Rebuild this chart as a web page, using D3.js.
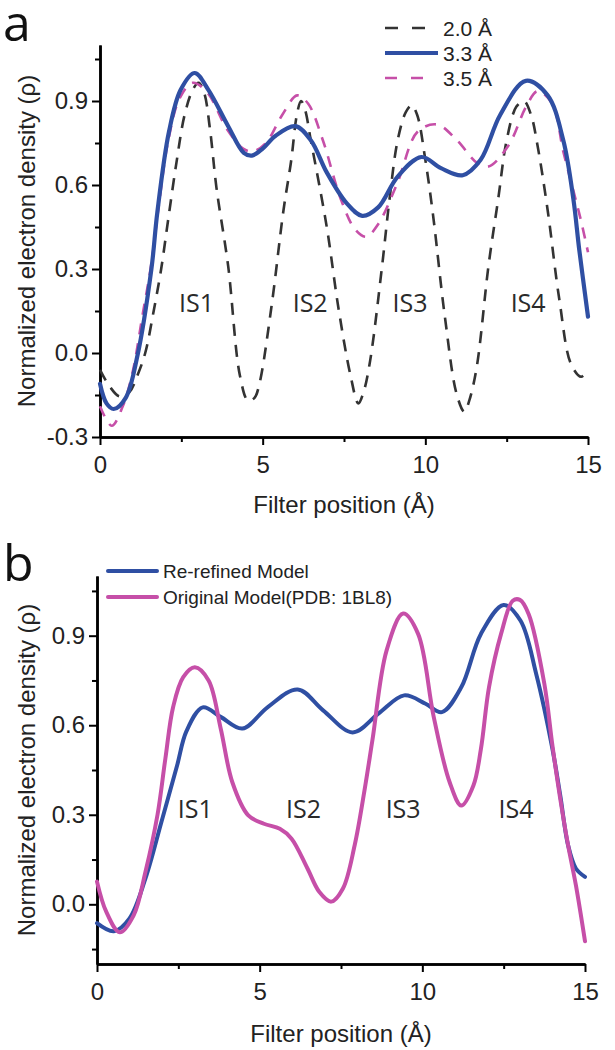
<!DOCTYPE html>
<html><head><meta charset="utf-8">
<script src="https://cdn.jsdelivr.net/npm/d3@7"></script>
<style>body{margin:0;background:#fff}svg{display:block}</style>
</head><body>
<svg id="c" width="615" height="1050"></svg>
<script>
// ---------- DATA ----------
const xTicks = [0, 5, 10, 15];
const xMinorTicks = [2.5, 7.5, 12.5];
const yTicksA = [-0.3, 0, 0.3, 0.6, 0.9];
const yTicksB = [0, 0.3, 0.6, 0.9];
const yMinorTicks = [-0.15, 0.15, 0.45, 0.75, 1.05];
const siteLabels = ["IS1", "IS2", "IS3", "IS4"];
const siteXA = [2.97, 6.46, 9.53, 13.16];
const siteXB = [3.02, 6.35, 9.41, 12.88];
const legendA = ["2.0 Å", "3.3 Å", "3.5 Å"];
const legendB = ["Re-refined Model", "Original Model(PDB: 1BL8)"];

// panel a: 2.0 Å (black dashed)
const a20 = [[0,-0.06],[0.3,-0.12],[0.6,-0.155],[0.9,-0.14],[1.15,-0.08],[1.39,0.0],[1.65,0.15],[1.88,0.30],[2.1,0.48],[2.35,0.68],[2.6,0.85],[2.85,0.94],[3.03,0.965],[3.2,0.93],[3.38,0.80],[3.58,0.59],[3.94,0.31],[4.3,-0.08],[4.55,-0.17],[4.75,-0.16],[4.9,-0.11],[5.27,0.165],[5.64,0.51],[5.88,0.69],[6.05,0.85],[6.18,0.9],[6.3,0.87],[6.48,0.76],[6.97,0.45],[7.33,0.16],[7.7,-0.08],[7.94,-0.18],[8.1,-0.14],[8.3,-0.03],[8.67,0.31],[8.9,0.55],[9.15,0.76],[9.4,0.86],[9.58,0.885],[9.75,0.85],[10.0,0.69],[10.24,0.49],[10.6,0.13],[10.97,-0.15],[11.2,-0.21],[11.35,-0.17],[11.58,-0.05],[11.94,0.31],[12.24,0.55],[12.5,0.76],[12.8,0.88],[13.03,0.9],[13.25,0.85],[13.45,0.74],[13.76,0.51],[14.12,0.19],[14.48,-0.04],[14.79,-0.085],[15,-0.06]];
// panel a: 3.3 Å (blue solid)
const a33 = [[0,-0.11],[0.2,-0.18],[0.42,-0.2],[0.79,-0.16],[1.15,-0.01],[1.58,0.30],[1.76,0.50],[2.12,0.79],[2.48,0.94],[2.91,1.0],[3.33,0.94],[3.94,0.81],[4.42,0.715],[4.67,0.705],[5.0,0.73],[5.39,0.775],[6.0,0.81],[6.48,0.76],[6.97,0.645],[7.58,0.535],[8.06,0.49],[8.55,0.52],[9.15,0.63],[9.88,0.70],[10.48,0.66],[11.15,0.635],[11.7,0.69],[12.3,0.85],[13.09,0.972],[13.76,0.92],[14.24,0.76],[14.55,0.55],[14.73,0.37],[15,0.13]];
// panel a: 3.5 Å (pink dashed)
const a35 = [[0,-0.19],[0.36,-0.26],[0.7,-0.19],[1.0,-0.07],[1.3,0.13],[1.58,0.32],[1.8,0.52],[2.1,0.76],[2.45,0.91],[2.85,0.965],[3.3,0.93],[3.9,0.80],[4.4,0.73],[4.7,0.72],[5.1,0.75],[5.6,0.85],[6.06,0.92],[6.4,0.89],[6.85,0.76],[7.4,0.55],[7.85,0.44],[8.18,0.415],[8.55,0.46],[9.15,0.61],[9.76,0.79],[10.36,0.816],[10.97,0.76],[11.58,0.68],[11.94,0.666],[12.55,0.74],[13.1,0.88],[13.45,0.935],[13.9,0.89],[14.24,0.72],[14.55,0.58],[14.79,0.47],[15,0.36]];
// panel b: re-refined model (blue)
const bRe = [[0,-0.063],[0.52,-0.09],[1.0,-0.047],[1.49,0.087],[1.98,0.276],[2.46,0.464],[2.75,0.58],[3.25,0.66],[3.8,0.628],[4.47,0.589],[5.25,0.661],[6.17,0.72],[6.95,0.65],[7.86,0.576],[8.65,0.639],[9.44,0.70],[10.1,0.672],[10.6,0.644],[11.2,0.728],[11.8,0.906],[12.5,1.003],[13.02,0.95],[13.5,0.772],[14.0,0.52],[14.24,0.364],[14.48,0.198],[14.72,0.12],[15,0.092]];
// panel b: original model 1BL8 (magenta)
const bOrig = [[0,0.076],[0.28,-0.024],[0.7,-0.094],[1.13,-0.036],[1.49,0.109],[1.86,0.30],[2.1,0.487],[2.34,0.661],[2.65,0.761],[3.01,0.794],[3.43,0.75],[3.8,0.59],[4.16,0.409],[4.65,0.298],[5.13,0.27],[5.62,0.253],[5.98,0.22],[6.47,0.12],[6.83,0.042],[7.2,0.009],[7.56,0.053],[7.92,0.198],[8.23,0.387],[8.47,0.553],[8.9,0.85],[9.41,0.974],[9.87,0.906],[10.35,0.628],[10.84,0.409],[11.2,0.331],[11.57,0.398],[11.8,0.52],[12.05,0.728],[12.42,0.906],[12.78,1.017],[13.0,1.02],[13.27,0.972],[13.75,0.739],[14.0,0.531],[14.24,0.353],[14.48,0.198],[14.72,0.064],[15,-0.124]];

// ---------- DRAW ----------
const svg = d3.select("#c");
const AX = "'Liberation Sans', Arial, sans-serif";
const MY = "'Open Sans', 'Noto Sans', sans-serif";
const BLUE = "#2f4fa3", PINK = "#c64fa8", BLACK = "#333";
const fmt1 = d => d.toFixed(1);

function panel(o) {
  const g = svg.append("g");
  const x = d3.scaleLinear().domain([0, 15]).range(o.xr);
  const y = d3.scaleLinear().domain(o.yd).range(o.yr);
  const x0 = o.xr[0], yb = o.yr[0];

  const styleAxis = sel => {
    sel.select(".domain").attr("stroke", "#000").attr("stroke-width", 2.5);
    sel.selectAll(".tick line").attr("stroke", "#000").attr("stroke-width", 2);
    sel.selectAll("text").attr("font-family", AX).attr("font-size", 24).attr("fill", "#222");
  };
  g.append("g").attr("transform", `translate(0,${yb})`)
    .call(d3.axisBottom(x).tickValues(xTicks).tickSize(8).tickSizeOuter(0).tickPadding(11).tickFormat(d3.format("d")))
    .call(styleAxis);
  g.append("g").attr("transform", `translate(0,${yb})`)
    .call(d3.axisBottom(x).tickValues(xMinorTicks).tickSize(5).tickSizeOuter(0).tickFormat(""))
    .call(styleAxis);
  g.append("g").attr("transform", `translate(${x0},0)`)
    .call(d3.axisLeft(y).tickValues(o.yt).tickSize(8).tickSizeOuter(0).tickPadding(4).tickFormat(fmt1))
    .call(styleAxis);
  g.append("g").attr("transform", `translate(${x0},0)`)
    .call(d3.axisLeft(y).tickValues(yMinorTicks.filter(v => v > o.yd[0] && v < o.yd[1])).tickSize(5).tickSizeOuter(0).tickFormat(""))
    .call(styleAxis);

  g.append("text").attr("x", (o.xr[0] + o.xr[1]) / 2).attr("y", o.xTitleY)
    .attr("text-anchor", "middle").attr("font-family", AX).attr("font-size", 24).attr("fill", "#222")
    .text("Filter position (Å)");
  g.append("text").attr("transform", `translate(${o.yTitleX},${(o.yr[0] + o.yr[1]) / 2}) rotate(-90)`)
    .attr("text-anchor", "middle").attr("font-family", AX).attr("font-size", 24).attr("fill", "#222")
    .text("Normalized electron density (ρ)");

  g.selectAll(".site").data(siteLabels).enter().append("text")
    .attr("x", (d, i) => x(o.siteX[i])).attr("y", y(o.siteY))
    .attr("dy", "0.36em").attr("text-anchor", "middle")
    .attr("font-family", MY).attr("font-size", 25).attr("fill", "#2a2a2a").text(d => d);

  const line = d3.line().x(d => x(d[0])).y(d => y(d[1])).curve(d3.curveCatmullRom.alpha(0.5));
  o.series.forEach(s => {
    g.append("path").datum(s.data).attr("d", line).attr("fill", "none")
      .attr("stroke", s.color).attr("stroke-width", s.w)
      .attr("stroke-dasharray", s.dash || null).attr("stroke-linecap", s.dash ? "butt" : "round")
      .attr("stroke-linejoin", "round");
  });

  g.append("text").attr("x", o.letterX).attr("y", o.letterY).attr("font-family", MY)
    .attr("font-size", 50).attr("fill", "#111").text(o.letter);
  return { x, y, g };
}

panel({
  xr: [100, 588], yd: [-0.3, 1.1], yr: [437, 45], yt: yTicksA,
  xTitleY: 513, yTitleX: 35, siteX: siteXA, siteY: 0.18,
  letter: "a", letterX: 3, letterY: 41,
  series: [
    { data: a20, color: BLACK, w: 2.6, dash: "12,9" },
    { data: a35, color: PINK, w: 2.6, dash: "11,9" },
    { data: a33, color: BLUE, w: 4.2 }
  ]
});
panel({
  xr: [97, 585], yd: [-0.2, 1.1], yr: [964, 576], yt: yTicksB,
  xTitleY: 1042, yTitleX: 35, siteX: siteXB, siteY: 0.32,
  letter: "b", letterX: 3, letterY: 581,
  series: [
    { data: bRe, color: BLUE, w: 4 },
    { data: bOrig, color: PINK, w: 4 }
  ]
});

const legA = svg.append("g");
const legAStyles = [
  { color: BLACK, w: 2.6, dash: "13,14", x2: 427 },
  { color: BLUE, w: 4.2, dash: null, x2: 438 },
  { color: PINK, w: 2.6, dash: "12,14", x2: 427 }
];
legendA.forEach((t, i) => {
  const yy = 28 + i * 25;
  const s = legAStyles[i];
  legA.append("line").attr("x1", 385).attr("x2", s.x2).attr("y1", yy).attr("y2", yy)
    .attr("stroke", s.color).attr("stroke-width", s.w).attr("stroke-dasharray", s.dash);
  legA.append("text").attr("x", 443).attr("y", yy).attr("dy", "0.36em")
    .attr("font-family", AX).attr("font-size", 21).attr("fill", "#222").text(t);
});

const legB = svg.append("g");
const legBColors = [BLUE, PINK];
legendB.forEach((t, i) => {
  const yy = 571 + i * 26;
  legB.append("line").attr("x1", 108).attr("x2", 157).attr("y1", yy).attr("y2", yy)
    .attr("stroke", legBColors[i]).attr("stroke-width", 4).attr("stroke-linecap", "round");
  legB.append("text").attr("x", 163).attr("y", yy).attr("dy", "0.36em")
    .attr("font-family", AX).attr("font-size", 19).attr("fill", "#222").text(t);
});
</script>
</body></html>
